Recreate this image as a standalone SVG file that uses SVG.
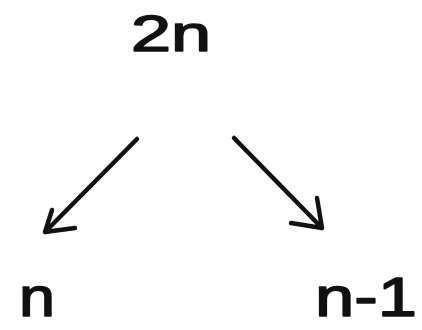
<svg xmlns="http://www.w3.org/2000/svg" width="422" height="330" viewBox="0 0 422 330">
<style>
.lbl{font-family:"Liberation Sans","DejaVu Sans",sans-serif;fill:#111;stroke:#111;stroke-width:1.6;stroke-linejoin:round}
.edge{stroke:#111;stroke-width:4.5;fill:none;stroke-linecap:round;stroke-linejoin:round}
</style>
<rect width="422" height="330" fill="#ffffff"/>
<g id="node-2n"><text class="lbl" x="131" y="51" font-size="50" textLength="80" lengthAdjust="spacingAndGlyphs">2n</text></g>
<g id="node-n"><text class="lbl" x="19" y="316" font-size="56" textLength="36" lengthAdjust="spacingAndGlyphs">n</text></g>
<g id="node-n-1"><text class="lbl" x="315" y="316" font-size="56" textLength="102" lengthAdjust="spacingAndGlyphs">n-1</text></g>
<g id="connectors">
<path class="edge" d="M137,139 L45,232 M52,210 L45,232 L75,228"/>
<path class="edge" d="M234,138 L322,228 M317,198 L322,228 L291,223"/>
</g>
</svg>
